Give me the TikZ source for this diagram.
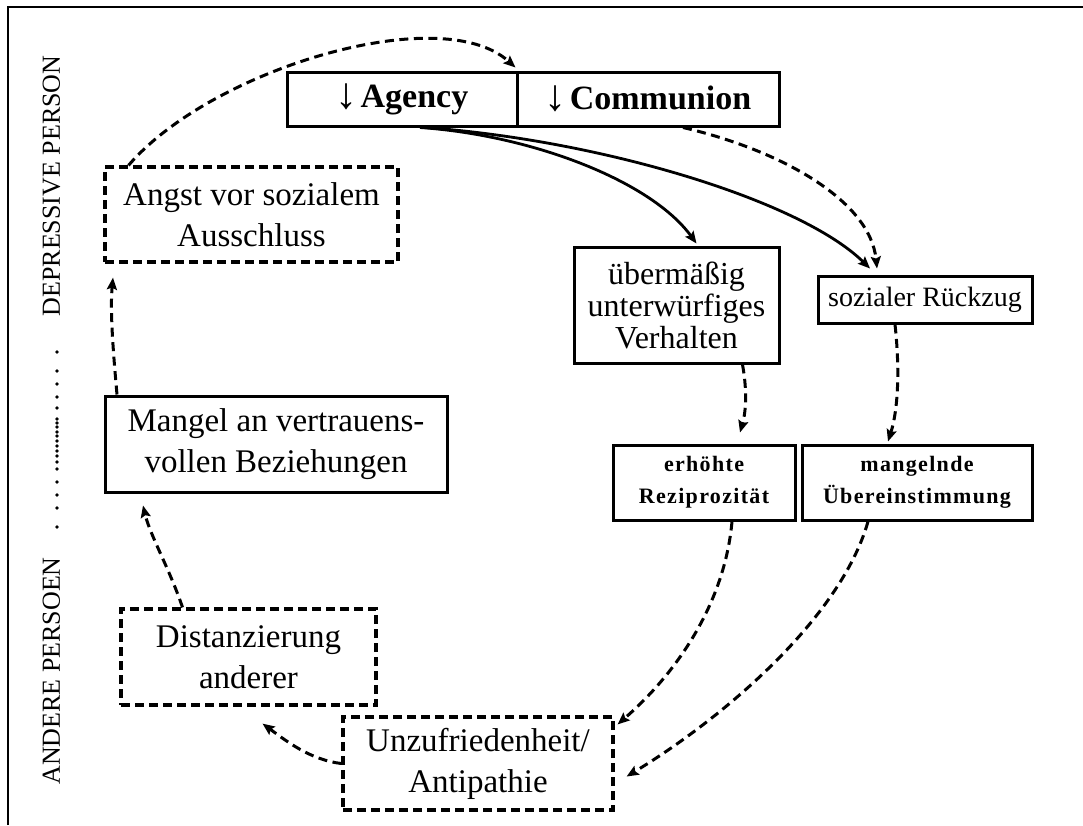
\documentclass[tikz,border=0pt]{standalone}
\usepackage{fontspec}
\setmainfont{Liberation Serif}
\usetikzlibrary{arrows.meta,calc}

\tikzset{
  solidbox/.style={draw, line width=3pt, rectangle, inner sep=0pt, align=center},
  dashbox/.style={solidbox, line width=3.2pt, dash pattern=on 9pt off 5pt},
  link/.style={line width=2.8pt, -{Stealth[length=12pt,width=10pt,inset=2pt]}},
  dlink/.style={link, line width=3pt, dash pattern=on 9pt off 5.5pt},
  bigtxt/.style={font=\fontsize{33}{41}\selectfont},
  midtxt/.style={font=\fontsize{32}{32}\selectfont},
  boldtxt/.style={font=\fontsize{22}{32}\selectfont\bfseries\addfontfeature{LetterSpace=6}},
  sidetxt/.style={font=\fontsize{26}{30}\selectfont, rotate=90, inner sep=0pt},
  toptxt/.style={font=\fontsize{34}{38}\selectfont\bfseries},
}
\newcommand{\downarr}{{\fontsize{44}{44}\mdseries\selectfont\raisebox{-1pt}{↓}}\kern3pt}

\begin{document}
\begin{tikzpicture}[x=1pt, y=-1pt]
\useasboundingbox (0,0) rectangle (1083,825);

% outer frame (only top and left edges lie inside the page)
\draw[line width=1.8pt] (8,825) -- (8,7) -- (1083,7);

% side labels
\node[sidetxt] (dep) at (51.5,186) {DEPRESSIVE PERSON};
\node[sidetxt] (and) at (51.5,671) {ANDERE PERSOEN};
\foreach \yy in {352,371,384,397,408,419,423,427,432,436,441,446,451,456,462,469,482,495,508,527}
  \fill (57,\yy) circle (1.8pt);

% top boxes
\node[solidbox, toptxt, minimum width=230pt, minimum height=54pt] (agency) at (402,99) {\downarr Agency};
\node[solidbox, toptxt, minimum width=262pt, minimum height=54pt] (communion) at (648,99) {\downarr Communion};

% left column
\node[dashbox, bigtxt, minimum width=293pt, minimum height=95pt] (angst) at (251.5,214.5)
  {Angst vor sozialem\\Ausschluss};
\node[solidbox, bigtxt, minimum width=342pt, minimum height=96pt] (mangel) at (276,444)
  {Mangel an vertrauens-\\vollen Beziehungen};
\node[dashbox, bigtxt, minimum width=255pt, minimum height=96pt] (distanz) at (248.5,657)
  {Distanzierung\\anderer};
\node[dashbox, bigtxt, minimum width=270pt, minimum height=93pt] (unzuf) at (478,763.5)
  {Unzufriedenheit/\\Antipathie};

% right column
\node[solidbox, midtxt, minimum width=205pt, minimum height=116pt] (ueber) at (676.5,305)
  {übermäßig\\unterwürfiges\\Verhalten};
\node[solidbox, font=\fontsize{28}{30}\selectfont, minimum width=214pt, minimum height=47pt] (rueck) at (925,299.5)
  {sozialer Rückzug};
\node[solidbox, boldtxt, minimum width=182pt, minimum height=75pt] (erhoeht) at (704,482.5)
  {erhöhte\\Reziprozität};
\node[solidbox, boldtxt, minimum width=230pt, minimum height=75pt] (mangelnde) at (917,482.5)
  {mangelnde\\Übereinstimmung};

% solid influences of low agency / communion
\draw[link] ([xshift=18pt]agency.south) .. controls (530,135) and (650,180) .. ([xshift=20pt,yshift=2pt]ueber.north);
\draw[link] ([xshift=23pt]agency.south) .. controls (600,140) and (800,200) .. ([xshift=-55pt,yshift=6pt]rueck.north);
\draw[dlink] ([xshift=35pt]communion.south) .. controls (780,150) and (870,200) .. ([xshift=-48pt,yshift=6pt]rueck.north);

% downward chain on the right
\draw[dlink] ([xshift=66pt]ueber.south) .. controls (748,395) and (745,415) .. ([xshift=36pt,yshift=11pt]erhoeht.north);
\draw[dlink] ([xshift=-30pt]rueck.south) .. controls (900,370) and (898,410) .. ([xshift=-29pt,yshift=2pt]mangelnde.north);
\draw[dlink] ([xshift=28pt]erhoeht.south) .. controls (725,600) and (680,670) .. ([xshift=3pt,yshift=-9pt]unzuf.north east);
\draw[dlink] ([xshift=-49pt]mangelnde.south) .. controls (840,620) and (720,720) .. ([xshift=12pt,yshift=-13pt]unzuf.east);

% cycle back on the left
\draw[dlink] (unzuf.west) .. controls (310,760) and (285,740) .. ([xshift=14pt,yshift=-17pt]distanz.south);
\draw[dlink] ([xshift=-66pt]distanz.north) .. controls (170,570) and (150,535) .. ([xshift=-133pt,yshift=-12pt]mangel.south);
\draw[dlink] ([xshift=-159pt]mangel.north) .. controls (113,350) and (110,310) .. ([xshift=-138.5pt,yshift=-14pt]angst.south);
\draw[dlink] ([xshift=-123pt]angst.north) .. controls (210,70) and (440,0) .. ([xshift=-3pt,yshift=3pt]agency.north east);
\end{tikzpicture}
\end{document}
